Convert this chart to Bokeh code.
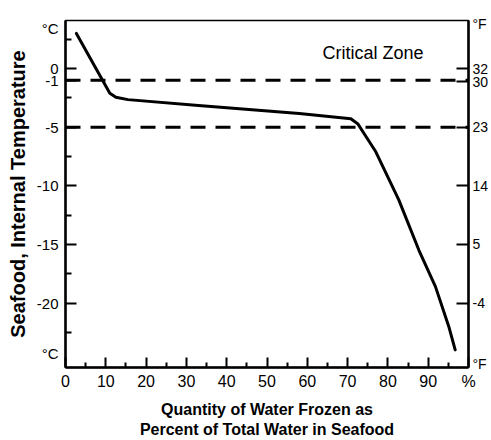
from bokeh.plotting import figure
from bokeh.models import Range1d, LinearAxis, FixedTicker, Span, Label
from bokeh.embed import file_html
from bokeh.resources import INLINE

# ---- data ----
pct_frozen = [2.7, 11.0, 12.5, 15.5, 33.0, 58.0, 70.8, 72.5, 74.0, 77.0, 82.7, 87.7, 91.8, 95.1, 96.7]
temp_c = [3.0, -2.1, -2.45, -2.65, -3.15, -3.83, -4.28, -4.7, -5.5, -7.1, -11.2, -15.5, -18.6, -22.0, -24.0]

critical_zone_c = [-1, -5]

x_ticks = [0, 10, 20, 30, 40, 50, 60, 70, 80, 90, 100]
x_tick_labels = ["0", "10", "20", "30", "40", "50", "60", "70", "80", "90", "%"]
x_minor = [5, 15, 25, 35, 45, 55, 65, 75, 85, 95]

c_ticks = [0, -1, -5, -10, -15, -20]
c_tick_labels = ["0", "-1", "-5", "-10", "-15", "-20"]
c_minor = [2.5, -2.5, -7.5, -12.5, -17.5, -22.5]
c_unit_pos = [3.4, -24.3]          # where the "°C" marks sit on the left scale

f_ticks = [32, 30, 23, 14, 5, -4]
f_tick_labels = ["32", "30", "23", "14", "5", "-4"]
f_unit_pos = [38.9, -13.4]         # where the "°F" marks sit on the right scale

FONT = "Liberation Sans"
Y_LO, Y_HI = -25.5, 4.1
W, H = 491, 440

p = figure(width=W, height=H, output_backend="svg", toolbar_location=None,
           x_range=Range1d(0, 100), y_range=Range1d(Y_LO, Y_HI),
           y_axis_location=None,
           min_border_left=65, min_border_right=21, min_border_top=20, min_border_bottom=72)
p.background_fill_color = "white"
p.border_fill_color = "white"
p.outline_line_color = "black"
p.outline_line_width = 1.5
p.xgrid.visible = False
p.ygrid.visible = False


def style_text(ax, size):
    ax.major_label_text_font = FONT
    ax.major_label_text_font_size = size
    ax.major_label_text_color = "black"


def hide_ticks(ax):
    ax.axis_line_color = None
    ax.major_tick_line_color = None
    ax.minor_tick_line_color = None
    ax.major_tick_in = 0
    ax.major_tick_out = 0
    ax.minor_tick_in = 0
    ax.minor_tick_out = 0


# bottom axis
xa = p.xaxis[0]
xa.ticker = FixedTicker(ticks=x_ticks, minor_ticks=x_minor)
xa.major_label_overrides = {t: l for t, l in zip(x_ticks, x_tick_labels)}
xa.major_tick_in = 10
xa.major_tick_out = 0
xa.minor_tick_in = 5
xa.minor_tick_out = 0
xa.axis_line_width = 2.5
xa.major_tick_line_width = 2
xa.minor_tick_line_width = 2
style_text(xa, "16px")
xa.major_label_standoff = 5
xa.axis_label = "Quantity of Water Frozen as\nPercent of Total Water in Seafood"
xa.axis_label_text_font = FONT
xa.axis_label_text_font_size = "16px"
xa.axis_label_text_font_style = "bold"
xa.axis_label_text_color = "black"
xa.axis_label_text_line_height = 1.2
xa.axis_label_standoff = 8

# left axis: line + tick marks (Celsius)
yl_ticks = LinearAxis(ticker=FixedTicker(ticks=c_ticks, minor_ticks=c_minor))
yl_ticks.major_label_overrides = {t: "" for t in c_ticks}
yl_ticks.major_label_standoff = 0
yl_ticks.major_tick_in = 11
yl_ticks.major_tick_out = 0
yl_ticks.minor_tick_in = 6
yl_ticks.minor_tick_out = 0
yl_ticks.axis_line_width = 2.5
yl_ticks.major_tick_line_width = 2
yl_ticks.minor_tick_line_width = 2
p.add_layout(yl_ticks, "left")

# left axis: labels (Celsius values and unit marks)
yl_lab = LinearAxis(ticker=FixedTicker(ticks=c_ticks + c_unit_pos, minor_ticks=[]))
yl_lab.major_label_overrides = {**{t: l for t, l in zip(c_ticks, c_tick_labels)},
                                **{t: "°C" for t in c_unit_pos}}
hide_ticks(yl_lab)
style_text(yl_lab, "15px")
yl_lab.major_label_standoff = 7
yl_lab.axis_label = "Seafood, Internal Temperature"
yl_lab.axis_label_text_font = FONT
yl_lab.axis_label_text_font_size = "20px"
yl_lab.axis_label_text_font_style = "bold"
yl_lab.axis_label_text_color = "black"
yl_lab.axis_label_standoff = 5
p.add_layout(yl_lab, "left")

# right axis (Fahrenheit)
p.extra_y_ranges = {"F": Range1d(Y_LO * 9 / 5 + 32, Y_HI * 9 / 5 + 32)}
yr_ticks = LinearAxis(y_range_name="F", ticker=FixedTicker(ticks=f_ticks, minor_ticks=[]))
yr_ticks.major_label_overrides = {t: "" for t in f_ticks}
yr_ticks.major_label_standoff = 0
yr_ticks.major_tick_in = 12
yr_ticks.major_tick_out = 0
yr_ticks.minor_tick_in = 0
yr_ticks.minor_tick_out = 0
yr_ticks.axis_line_width = 2.5
yr_ticks.major_tick_line_width = 2
p.add_layout(yr_ticks, "right")

yr_lab = LinearAxis(y_range_name="F", ticker=FixedTicker(ticks=f_ticks + f_unit_pos, minor_ticks=[]))
yr_lab.major_label_overrides = {**{t: l for t, l in zip(f_ticks, f_tick_labels)},
                                **{t: "°F" for t in f_unit_pos}}
hide_ticks(yr_lab)
style_text(yr_lab, "14px")
yr_lab.major_label_standoff = 4
p.add_layout(yr_lab, "right")

# critical zone dashed lines
for loc in critical_zone_c:
    p.add_layout(Span(location=loc, dimension="width", line_color="black",
                      line_width=3, line_dash="15 10"))

# curve
p.line(pct_frozen, temp_c, line_color="black", line_width=3, line_join="round", line_cap="round")

p.add_layout(Label(x=76.3, y=1.29, text="Critical Zone", text_font=FONT, text_font_size="18px",
                   text_align="center", text_baseline="alphabetic", text_color="black"))

open("out.html", "w").write(file_html(p, INLINE))
